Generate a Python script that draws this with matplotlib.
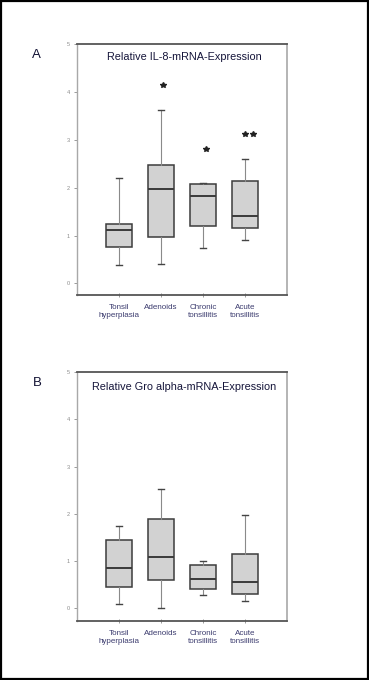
import matplotlib.pyplot as plt
from matplotlib.patches import Rectangle

# group names on the x axis
groups = ["Tonsil\nhyperplasia", "Adenoids", "Chronic\ntonsillitis", "Acute\ntonsillitis"]

# panel A - relative IL-8 mRNA expression
il8_whislo = [0.38, 0.40, 0.74, 0.90]
il8_q1 = [0.77, 0.97, 1.20, 1.16]
il8_med = [1.12, 1.98, 1.82, 1.41]
il8_q3 = [1.24, 2.48, 2.07, 2.14]
il8_whishi = [2.21, 3.62, 2.09, 2.60]
il8_fliers = [[], [4.14], [2.81], [3.12, 3.12]]

# panel B - relative Gro alpha mRNA expression
gro_whislo = [0.10, 0.00, 0.27, 0.15]
gro_q1 = [0.45, 0.59, 0.41, 0.31]
gro_med = [0.85, 1.09, 0.61, 0.56]
gro_q3 = [1.45, 1.90, 0.92, 1.14]
gro_whishi = [1.75, 2.52, 1.00, 1.98]
gro_fliers = [[], [], [], []]

yticks = [0, 1, 2, 3, 4, 5]

# little sideways shift of the outlier stars so the two acute ones don't overlap
flier_shift = [[], [0.05], [0.06], [0.0, 0.18]]

fig = plt.figure(figsize=(3.69, 6.8), dpi=100)
fig.patch.set_facecolor("white")
plt.rcParams['font.family'] = ['Liberation Sans', 'DejaVu Sans']


def make_panel(rect, ylo, wlo, q1, med, q3, whi, fliers, title, letter, title_y):
    ax = fig.add_axes(rect)
    stats = []
    for i in range(len(groups)):
        stats.append(dict(whislo=wlo[i], q1=q1[i], med=med[i], q3=q3[i], whishi=whi[i], fliers=[]))
    ax.bxp(stats, positions=[1, 2, 3, 4], widths=0.6, patch_artist=True,
           boxprops=dict(facecolor="#d2d2d2", edgecolor="#3c3c3c", linewidth=1.1),
           medianprops=dict(color="#3a3a3a", linewidth=1.4),
           whiskerprops=dict(color="#8a8a8a", linewidth=0.8),
           capprops=dict(color="#444444", linewidth=1.0),
           capwidths=0.15, showfliers=False)
    # outliers as stars
    for i in range(len(groups)):
        for v, dx in zip(fliers[i], flier_shift[i]):
            ax.plot(i + 1 + dx, v, marker="*", color="#222222", markersize=4, linestyle="none")

    ax.set_xlim(0, 5)
    ax.set_ylim(ylo, 5)
    ax.set_yticks(yticks)
    ax.set_yticklabels([str(t) for t in yticks], fontsize=4, color="#8a8a8a")
    ax.set_xticks([1, 2, 3, 4])
    ax.set_xticklabels(groups, fontsize=5.8, color="#3b3b6e", linespacing=1.3)
    ax.tick_params(axis="y", length=2, width=0.6, color="#8a8a8a", pad=3)
    ax.tick_params(axis="x", length=2.5, width=0.6, color="#8a8a8a", pad=5, direction="inout")

    ax.spines["top"].set_color("#555555")
    ax.spines["top"].set_linewidth(1.3)
    ax.spines["bottom"].set_color("#555555")
    ax.spines["bottom"].set_linewidth(1.3)
    ax.spines["left"].set_color("#a8a8a8")
    ax.spines["left"].set_linewidth(1.0)
    ax.spines["right"].set_color("#a8a8a8")
    ax.spines["right"].set_linewidth(1.2)

    ax.text(0.51, title_y, title, transform=ax.transAxes, ha="center", va="center",
            fontsize=7.8, color="#15153a")
    fig.text(0.1, rect[1] + rect[3] - 0.016, letter, ha="center", va="center",
             fontsize=9.5, color="#111133")
    return ax


make_panel([0.2087, 0.5662, 0.569, 0.3691], -0.24, il8_whislo, il8_q1, il8_med, il8_q3,
           il8_whishi, il8_fliers, "Relative IL-8-mRNA-Expression", "A", 0.948)
make_panel([0.2087, 0.0868, 0.569, 0.3657], -0.27, gro_whislo, gro_q1, gro_med, gro_q3,
           gro_whishi, gro_fliers, "Relative Gro alpha-mRNA-Expression", "B", 0.941)

# black frame round the whole figure
fig.patches.append(Rectangle((0.002, 0.001), 0.995, 0.997, transform=fig.transFigure,
                             fill=False, edgecolor="black", linewidth=1.6))

fig.savefig("out.png", dpi=100)
